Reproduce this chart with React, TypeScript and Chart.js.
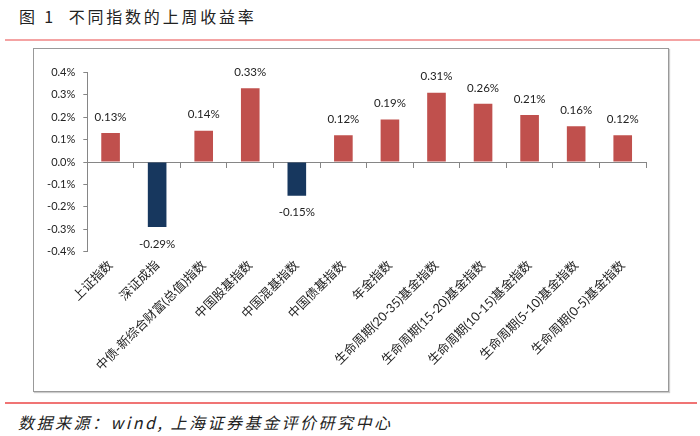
import React, { useEffect, useRef } from "react";
import { Chart, registerables } from "chart.js";

Chart.register(...registerables);

const categories: string[] = [
  "上证指数",
  "深证成指",
  "中债-新综合财富(总值)指数",
  "中国股基指数",
  "中国混基指数",
  "中国债基指数",
  "年金指数",
  "生命周期(20-35)基金指数",
  "生命周期(15-20)基金指数",
  "生命周期(10-15)基金指数",
  "生命周期(5-10)基金指数",
  "生命周期(0-5)基金指数",
];

const weeklyReturns: number[] = [0.13, -0.29, 0.14, 0.33, -0.15, 0.12, 0.19, 0.31, 0.26, 0.21, 0.16, 0.12];

const yMin = -0.4;
const yMax = 0.4;
const yStep = 0.1;

const titleText = "图 1  不同指数的上周收益率";
const sourceText = "数据来源：wind, 上海证券基金评价研究中心";

const RED = "#C0504D";
const BLUE = "#17375E";
const AXIS = "#868686";

const CANVAS_W = 634;
const CANVAS_H = 342;

const valueLabelPlugin = {
  id: "valueLabels",
  afterDatasetsDraw(chart: any) {
    const ctx = chart.ctx;
    const meta = chart.getDatasetMeta(0);
    const data = chart.data.datasets[0].data as number[];
    ctx.save();
    ctx.font = "11.5px Lato, 'Noto Sans CJK SC', sans-serif";
    ctx.fillStyle = "#222";
    ctx.textAlign = "center";
    ctx.textBaseline = "middle";
    meta.data.forEach((bar: any, i: number) => {
      const v = data[i];
      const y = v >= 0 ? bar.y - 16 : bar.y + 17;
      ctx.fillText(v.toFixed(2) + "%", bar.x, y);
    });
    ctx.restore();
  },
};

function BarChart() {
  const ref = useRef<HTMLCanvasElement | null>(null);
  useEffect(() => {
    if (!ref.current) return;
    const chart = new Chart(ref.current, {
      type: "bar",
      data: {
        labels: categories,
        datasets: [
          {
            data: weeklyReturns,
            backgroundColor: weeklyReturns.map((v) => (v >= 0 ? RED : BLUE)),
            borderWidth: 0,
            barPercentage: 0.4,
            categoryPercentage: 1,
            xAxisID: "x",
            yAxisID: "y",
          },
        ],
      },
      options: {
        animation: false,
        responsive: false,
        layout: { padding: { left: 0, right: 22, top: 23.5, bottom: 0 } },
        plugins: {
          legend: { display: false },
          tooltip: { enabled: false },
          title: { display: false },
        },
        scales: {
          x: {
            type: "category",
            position: "bottom",
            offset: true,
            grid: { display: false, drawTicks: false },
            border: { display: false },
            ticks: {
              autoSkip: false,
              minRotation: 45,
              maxRotation: 45,
              padding: 6,
              color: "#222",
              font: { family: "Lato, 'Noto Sans CJK SC', sans-serif", size: 12.5 },
            },
            afterFit(scale: any) {
              scale.height = CANVAS_H - 202.7;
            },
          },
          x2: {
            type: "category",
            position: { y: 0 } as any,
            offset: true,
            grid: {
              display: true,
              offset: true,
              drawOnChartArea: false,
              drawTicks: true,
              tickLength: 5,
              color: AXIS,
              lineWidth: 1,
            },
            border: { display: true, color: AXIS, width: 1 },
            ticks: { display: false },
          },
          y: {
            type: "linear",
            min: yMin,
            max: yMax,
            ticks: {
              stepSize: yStep,
              padding: 8,
              color: "#222",
              font: { family: "Lato, sans-serif", size: 11 },
              callback: (v: any) => Number(v).toFixed(1) + "%",
            },
            grid: {
              drawOnChartArea: false,
              drawTicks: true,
              tickLength: 4,
              color: AXIS,
            },
            border: { display: true, color: AXIS, width: 1 },
            afterFit(scale: any) {
              scale.width = 53.3;
            },
          },
        },
      },
      plugins: [valueLabelPlugin],
    });
    return () => chart.destroy();
  }, []);
  return (
    <canvas
      ref={ref}
      width={CANVAS_W}
      height={CANVAS_H}
      style={{ width: CANVAS_W, height: CANVAS_H, display: "block" }}
    />
  );
}

export default function App() {
  return (
    <div
      style={{
        position: "absolute",
        left: 0,
        top: 0,
        width: 700,
        height: 436,
        background: "#fff",
        overflow: "hidden",
        fontFamily: "'Noto Sans CJK SC', sans-serif",
      }}
    >
      <div
        style={{
          position: "absolute",
          left: 19,
          top: 5,
          fontSize: 16,
          lineHeight: "22px",
          letterSpacing: "2.8px",
          whiteSpace: "pre",
          color: "#222",
        }}
      >
        {titleText}
      </div>
      <div style={{ position: "absolute", left: 5, top: 39, width: 695, height: 2, background: "#F4A3A3" }} />
      <div
        style={{
          position: "absolute",
          left: 33,
          top: 48,
          width: 636,
          height: 344,
          boxSizing: "border-box",
          border: "1.5px solid #999",
          boxShadow: "1px 1px 1px #ccc",
        }}
      />
      <div style={{ position: "absolute", left: 34, top: 49, width: CANVAS_W, height: CANVAS_H }}>
        <BarChart />
      </div>
      <div style={{ position: "absolute", left: 5, top: 402, width: 692, height: 2, background: "#F07474" }} />
      <div
        style={{
          position: "absolute",
          left: 18,
          top: 411,
          fontSize: 16,
          lineHeight: "22px",
          letterSpacing: "2.5px",
          fontStyle: "italic",
          whiteSpace: "pre",
          color: "#222",
        }}
      >
        {sourceText}
      </div>
    </div>
  );
}
